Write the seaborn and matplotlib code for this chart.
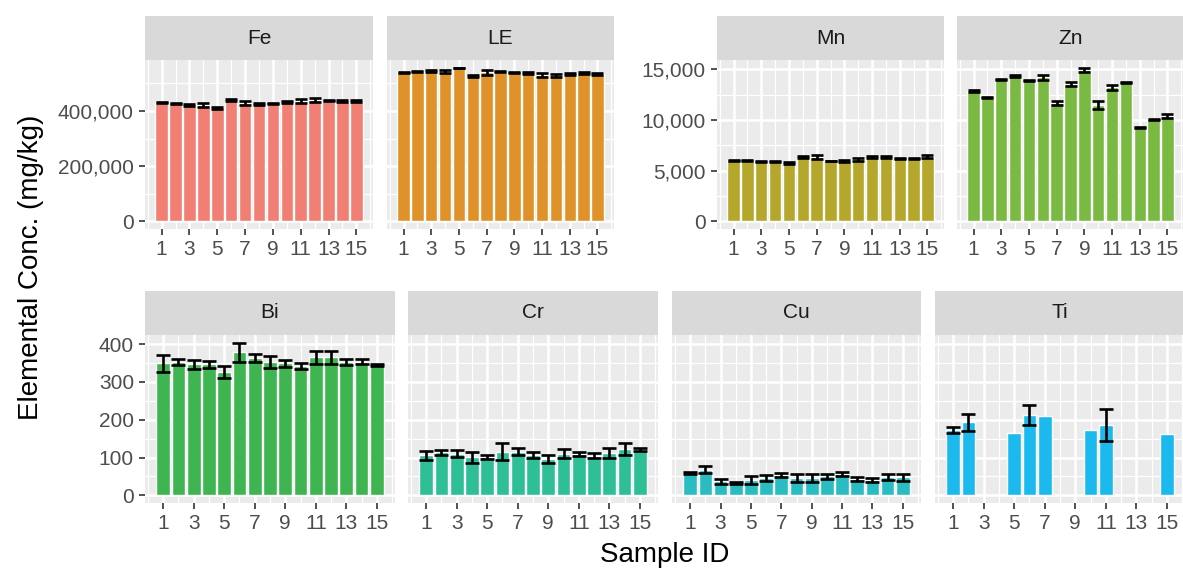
import numpy as np
import pandas as pd
import matplotlib
matplotlib.use("Agg")
import matplotlib.pyplot as plt
import seaborn as sns
from matplotlib.ticker import FuncFormatter

# ---- data: mean concentration and standard deviation per sample (mg/kg) ----
samples = list(range(1, 16))
nan = np.nan

fe_mean = [430500, 428000, 422000, 422000, 412000, 440000, 429000, 425500,
           427000, 433000, 435000, 440000, 438000, 436000, 436000]
fe_sd = [3000, 1500, 4000, 6400, 3000, 3000, 7600, 4000,
         2000, 5000, 7000, 6500, 3000, 4000, 5000]

le_mean = [539600, 541800, 545000, 543000, 556000, 527000, 540000, 543000,
           540000, 537000, 531000, 528700, 534500, 537000, 534500]
le_sd = [3300, 2000, 2700, 6300, 1000, 4000, 8700, 1500,
         1000, 4500, 6300, 6300, 2700, 2700, 4500]

mn_mean = [6000, 5950, 5910, 5930, 5780, 6340, 6370, 5940,
           5940, 6100, 6340, 6340, 6200, 6170, 6370]
mn_sd = [60, 50, 70, 50, 90, 110, 190, 40, 80, 120, 110, 90, 70, 60, 150]

zn_mean = [12840, 12200, 13960, 14350, 13860, 14200, 11650, 13530,
           14950, 11480, 13200, 13700, 9240, 10070, 10400]
zn_sd = [60, 30, 40, 90, 70, 270, 200, 170, 200, 390, 260, 40, 40, 60, 190]

bi_mean = [349, 353, 347, 347, 326, 378, 363, 352, 349, 342, 365, 365, 354, 354, 344]
bi_sd = [22, 7, 12, 9, 16, 26, 10, 16, 9, 7, 17, 18, 8, 6, 3]

cr_mean = [106, 114, 110, 101, 102, 116, 116, 106, 96, 110, 110, 105, 112, 123, 121]
cr_sd = [12, 6, 9, 15, 6, 23, 10, 8, 11, 12, 5, 6, 12, 15, 4]

cu_mean = [59, 68, 37, 33, 41, 47, 53, 46, 46, 50, 56, 43, 41, 48, 48]
cu_sd = [2, 9, 7, 2, 11, 8, 5, 11, 11, 6, 6, 5, 5, 8, 9]

ti_mean = [172, 193, nan, nan, 164, 213, 210, nan, nan, 173, 186, nan, nan, nan, 162]
ti_sd = [8, 22, nan, nan, nan, 27, nan, nan, nan, nan, 42, nan, nan, nan, nan]

elements = ["Fe", "LE", "Mn", "Zn", "Bi", "Cr", "Cu", "Ti"]
colors = ["#F17F73", "#E0922A", "#B5A72B", "#7BBA42",
          "#3EB550", "#2EBF97", "#29BCC0", "#1BB9EE"]

# ---- style ----
sns.set_theme(style="white")
plt.rcParams["font.family"] = ["Liberation Sans", "DejaVu Sans"]

W, H, DPI = 1183, 568, 100
fig = plt.figure(figsize=(W / DPI, H / DPI), dpi=DPI)


def px_axes(x0, x1, y0, y1):
    return fig.add_axes([x0 / W, 1 - y1 / H, (x1 - x0) / W, (y1 - y0) / H])


def group_limits(means, sds):
    top = max(np.nanmax(np.array(m, float) + np.nan_to_num(np.array(s, float)))
              for m, s in zip(means, sds))
    return (-0.05 * top, 1.05 * top)


lim_a = group_limits([fe_mean, le_mean], [fe_sd, le_sd])
lim_b = group_limits([mn_mean, zn_mean], [mn_sd, zn_sd])
lim_c = group_limits([bi_mean, cr_mean, cu_mean, ti_mean],
                     [bi_sd, cr_sd, cu_sd, ti_sd])

ticks_a = ([0, 200000, 400000], [100000, 300000, 500000])
ticks_b = ([0, 5000, 10000, 15000], [2500, 7500, 12500])
ticks_c = ([0, 100, 200, 300, 400], [50, 150, 250, 350])

top_row = (16, 60, 229)      # strip top, panel top, panel bottom (px)
bot_row = (291, 335, 503)

panels = [
    ("Fe", fe_mean, fe_sd, colors[0], 145, 373, top_row, lim_a, ticks_a, True),
    ("LE", le_mean, le_sd, colors[1], 387, 614, top_row, lim_a, ticks_a, False),
    ("Mn", mn_mean, mn_sd, colors[2], 717, 944, top_row, lim_b, ticks_b, True),
    ("Zn", zn_mean, zn_sd, colors[3], 957, 1184, top_row, lim_b, ticks_b, False),
    ("Bi", bi_mean, bi_sd, colors[4], 145, 395, bot_row, lim_c, ticks_c, True),
    ("Cr", cr_mean, cr_sd, colors[5], 408, 658, bot_row, lim_c, ticks_c, False),
    ("Cu", cu_mean, cu_sd, colors[6], 672, 921, bot_row, lim_c, ticks_c, False),
    ("Ti", ti_mean, ti_sd, colors[7], 935, 1185, bot_row, lim_c, ticks_c, False),
]

xlo, xhi = -1.195, 15.195
fmt = FuncFormatter(lambda v, p: f"{v:,.0f}")

for name, mean, sd, col, x0, x1, (s_top, p_top, p_bot), ylim, (maj, mnr), show_y in panels:
    ax = px_axes(x0, x1, p_top, p_bot)
    df = pd.DataFrame({"sample": samples, "conc": mean}).dropna()
    sns.barplot(data=df, x="sample", y="conc", order=samples, color=col,
                saturation=1, width=0.9, errorbar=None, ax=ax, zorder=2)

    m = np.array(mean, float)
    s = np.array(sd, float)
    pos = np.arange(len(samples))
    ok = np.isfinite(m) & np.isfinite(s)
    px_per_unit = (x1 - x0) / (xhi - xlo)
    cap = 0.45 * px_per_unit * 72 / DPI
    ax.errorbar(pos[ok], m[ok], yerr=s[ok], fmt="none", ecolor="black",
                elinewidth=1.9, capsize=cap, capthick=1.9, zorder=3)

    ax.set_facecolor("#EBEBEB")
    for sp in ax.spines.values():
        sp.set_visible(False)
    ax.set_xlim(xlo, xhi)
    ax.set_ylim(*ylim)
    ax.set_xticks(pos[::2])
    ax.set_xticklabels([str(v) for v in samples[::2]])
    ax.set_xticks(np.arange(-1, 16, 2), minor=True)
    ax.set_yticks(maj)
    ax.set_yticks(mnr, minor=True)
    ax.yaxis.set_major_formatter(fmt)
    ax.grid(which="major", color="white", lw=1.8)
    ax.grid(which="minor", color="white", lw=0.9)
    ax.set_axisbelow(True)
    ax.tick_params(which="minor", length=0)
    ax.tick_params(which="major", length=4.5, width=1.2, color="#333333",
                   labelsize=15, labelcolor="#4D4D4D", pad=3.5)
    ax.tick_params(axis="x", which="major", bottom=True)
    ax.tick_params(axis="y", which="major", left=show_y, labelleft=show_y)
    ax.set_xlabel("")
    ax.set_ylabel("")

    sx = px_axes(x0, x1, s_top, p_top)
    sx.set_facecolor("#D9D9D9")
    sx.set_xticks([])
    sx.set_yticks([])
    for sp in sx.spines.values():
        sp.set_visible(False)
    sx.text(0.5, 0.5, name, ha="center", va="center", fontsize=15,
            color="#1A1A1A", transform=sx.transAxes)

fig.text(31 / W, 1 - 267 / H, "Elemental Conc. (mg/kg)", rotation=90,
         ha="center", va="center", fontsize=20, color="black")
fig.text(665 / W, 1 - 555 / H, "Sample ID", ha="center", va="center",
         fontsize=20, color="black")

fig.savefig("out.png", dpi=DPI, facecolor="white")
